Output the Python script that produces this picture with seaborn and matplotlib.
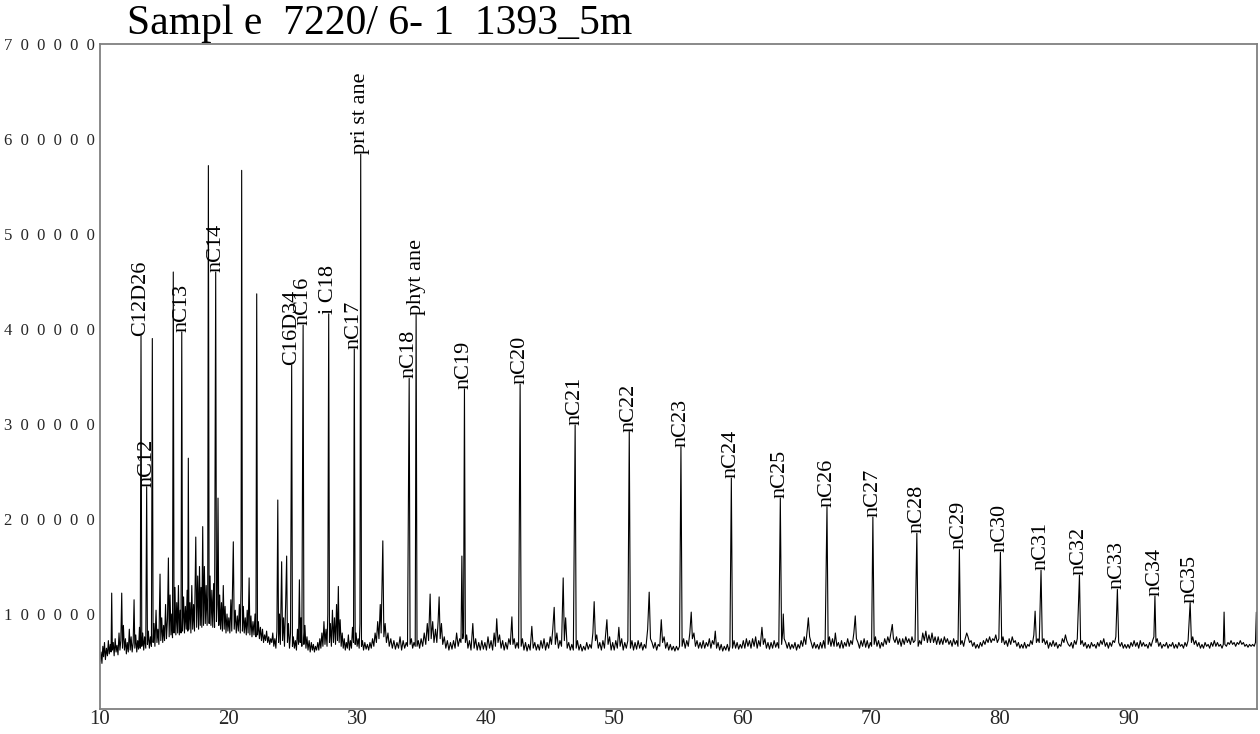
import numpy as np
import pandas as pd
import matplotlib
matplotlib.use("Agg")
import matplotlib.pyplot as plt
import seaborn as sns

# ---------------- data (retention time [min], signal [x1000 counts]) ----------------
seg_10_15 = [
    (10.00, 50), (10.08, 60), (10.15, 48), (10.22, 66), (10.28, 55), (10.35, 70), (10.42, 52), (10.50, 64),
    (10.58, 56), (10.65, 72), (10.72, 58), (10.80, 68), (10.86, 60), (10.91, 122), (10.96, 62), (11.03, 70),
    (11.10, 56), (11.18, 74), (11.25, 60), (11.32, 67), (11.40, 57), (11.48, 80), (11.55, 62), (11.62, 72),
    (11.69, 122), (11.75, 64), (11.82, 88), (11.90, 62), (11.98, 74), (12.05, 58), (12.12, 70), (12.20, 60),
    (12.28, 84), (12.35, 62), (12.42, 76), (12.50, 60), (12.58, 70), (12.65, 115), (12.71, 64), (12.78, 78),
    (12.86, 60), (12.93, 72), (13.00, 63), (13.07, 86), (13.13, 64), (13.19, 393), (13.25, 66), (13.32, 80),
    (13.40, 62), (13.47, 76), (13.56, 64), (13.63, 234), (13.69, 68), (13.76, 82), (13.84, 64), (13.92, 76),
    (14.00, 66), (14.07, 390), (14.13, 70), (14.20, 90), (14.27, 66), (14.36, 104), (14.43, 70), (14.50, 84),
    (14.58, 68), (14.67, 142), (14.73, 72), (14.80, 96), (14.88, 70), (14.95, 88),
]
seg_15_20 = [
    (15.02, 72), (15.10, 110), (15.17, 74), (15.25, 95), (15.32, 159), (15.38, 76), (15.45, 120), (15.52, 78),
    (15.58, 100), (15.64, 75), (15.70, 460), (15.76, 80), (15.83, 128), (15.90, 78), (15.97, 112), (16.04, 80),
    (16.10, 130), (16.17, 78), (16.24, 104), (16.30, 80), (16.36, 397), (16.42, 82), (16.50, 118), (16.57, 80),
    (16.64, 108), (16.71, 84), (16.78, 125), (16.83, 82), (16.87, 264), (16.92, 84), (17.00, 112), (17.07, 80),
    (17.14, 130), (17.21, 84), (17.28, 110), (17.35, 82), (17.45, 181), (17.52, 86), (17.60, 140), (17.67, 84),
    (17.74, 150), (17.80, 88), (17.86, 128), (17.92, 86), (17.99, 192), (18.05, 88), (18.12, 150), (18.19, 90),
    (18.26, 130), (18.33, 88), (18.38, 120), (18.43, 572), (18.49, 90), (18.56, 140), (18.63, 88), (18.70, 125),
    (18.77, 86), (18.84, 132), (18.91, 86), (19.00, 460), (19.06, 92), (19.12, 110), (19.18, 222), (19.24, 88),
    (19.31, 120), (19.38, 84), (19.45, 112), (19.52, 82), (19.59, 130), (19.66, 84), (19.73, 108), (19.80, 80),
    (19.88, 100), (19.95, 82),
]
seg_20_25 = [
    (20.02, 96), (20.10, 80), (20.18, 115), (20.25, 82), (20.37, 176), (20.44, 84), (20.52, 104), (20.60, 80),
    (20.68, 98), (20.76, 82), (20.84, 110), (20.91, 80), (20.97, 130), (21.02, 567), (21.08, 82), (21.15, 108),
    (21.22, 80), (21.30, 96), (21.38, 78), (21.45, 104), (21.52, 80), (21.60, 138), (21.66, 78), (21.74, 98),
    (21.82, 76), (21.90, 92), (21.98, 78), (22.06, 100), (22.13, 76), (22.19, 437), (22.25, 78), (22.32, 92),
    (22.40, 74), (22.48, 86), (22.56, 72), (22.64, 84), (22.72, 70), (22.80, 78), (22.88, 72), (22.96, 82),
    (23.04, 70), (23.12, 76), (23.20, 68), (23.28, 74), (23.36, 70), (23.44, 80), (23.52, 66), (23.60, 74),
    (23.68, 64), (23.76, 82), (23.83, 220), (23.89, 70), (23.96, 100), (24.03, 68), (24.13, 155), (24.20, 72),
    (24.28, 96), (24.35, 66), (24.44, 110), (24.52, 161), (24.58, 70), (24.66, 90), (24.74, 64), (24.82, 80),
    (24.91, 362), (24.97, 66), (25.04, 76),
]
seg_25_30 = [
    (25.12, 64), (25.20, 72), (25.28, 62), (25.36, 84), (25.44, 68), (25.51, 136), (25.57, 70), (25.63, 96),
    (25.70, 66), (25.80, 404), (25.86, 68), (25.94, 88), (26.02, 64), (26.10, 76), (26.18, 62), (26.27, 72),
    (26.35, 60), (26.44, 70), (26.52, 62), (26.60, 68), (26.68, 60), (26.76, 66), (26.85, 62), (26.94, 70),
    (27.02, 62), (27.10, 74), (27.18, 64), (27.26, 80), (27.34, 66), (27.42, 92), (27.50, 68), (27.58, 84),
    (27.66, 66), (27.72, 100), (27.79, 416), (27.85, 70), (27.92, 90), (28.00, 66), (28.08, 104), (28.16, 70),
    (28.24, 96), (28.32, 68), (28.40, 110), (28.47, 72), (28.54, 129), (28.60, 70), (28.68, 94), (28.76, 66),
    (28.84, 80), (28.92, 64), (29.00, 74), (29.08, 62), (29.16, 70), (29.24, 64), (29.32, 78), (29.40, 62),
    (29.48, 72), (29.56, 64), (29.64, 86), (29.72, 70), (29.78, 379), (29.85, 68), (29.92, 80), (30.00, 66),
    (30.08, 74), (30.16, 64), (30.22, 90), (30.28, 584), (30.34, 66), (30.42, 72),
]
seg_30_40 = [
    (30.50, 62), (30.60, 70), (30.70, 63), (30.80, 68), (30.90, 62), (31.00, 70), (31.10, 64), (31.20, 74),
    (31.30, 66), (31.40, 80), (31.50, 70), (31.60, 92), (31.70, 74), (31.80, 110), (31.87, 80), (32.00, 177),
    (32.08, 76), (32.18, 90), (32.28, 70), (32.40, 80), (32.50, 66), (32.62, 74), (32.74, 64), (32.86, 72),
    (32.98, 63), (33.10, 70), (33.22, 64), (33.34, 76), (33.46, 62), (33.58, 72), (33.70, 64), (33.82, 70),
    (33.92, 66), (34.05, 348), (34.12, 68), (34.22, 74), (34.32, 64), (34.42, 70), (34.52, 66), (34.59, 415),
    (34.66, 66), (34.76, 72), (34.86, 64), (34.98, 74), (35.10, 66), (35.22, 80), (35.34, 68), (35.46, 90),
    (35.56, 72), (35.68, 121), (35.76, 74), (35.88, 92), (35.98, 70), (36.10, 84), (36.20, 70), (36.30, 92),
    (36.38, 118), (36.46, 74), (36.56, 90), (36.66, 68), (36.78, 76), (36.90, 64), (37.02, 72), (37.14, 62),
    (37.26, 70), (37.38, 63), (37.50, 72), (37.62, 64), (37.74, 80), (37.86, 66), (37.98, 74), (38.08, 70),
    (38.15, 161), (38.22, 74), (38.28, 80), (38.35, 337), (38.42, 70), (38.52, 78), (38.62, 64), (38.74, 72),
    (38.86, 62), (39.00, 90), (39.10, 64), (39.22, 74), (39.34, 62), (39.46, 70), (39.58, 62), (39.70, 72),
    (39.82, 63),
]
seg_40_50 = [
    (39.94, 70), (40.06, 62), (40.18, 76), (40.30, 64), (40.42, 72), (40.54, 62), (40.66, 80), (40.76, 66),
    (40.86, 95), (40.96, 70), (41.08, 78), (41.20, 64), (41.32, 72), (41.44, 62), (41.56, 70), (41.68, 63),
    (41.80, 74), (41.92, 68), (42.04, 97), (42.12, 68), (42.22, 74), (42.32, 64), (42.44, 70), (42.56, 64),
    (42.68, 342), (42.76, 66), (42.86, 74), (42.98, 62), (43.10, 70), (43.22, 61), (43.34, 68), (43.46, 62),
    (43.59, 87), (43.70, 64), (43.82, 70), (43.94, 62), (44.06, 68), (44.18, 62), (44.30, 72), (44.42, 64),
    (44.54, 74), (44.66, 62), (44.78, 70), (44.90, 64), (45.02, 76), (45.12, 68), (45.22, 84), (45.33, 107),
    (45.42, 68), (45.54, 80), (45.66, 64), (45.78, 72), (45.90, 66), (46.03, 138), (46.12, 72), (46.22, 96),
    (46.34, 64), (46.46, 70), (46.58, 62), (46.70, 68), (46.82, 62), (46.96, 299), (47.04, 64), (47.14, 72),
    (47.26, 62), (47.38, 68), (47.50, 61), (47.62, 66), (47.74, 62), (47.86, 70), (47.98, 63), (48.10, 68),
    (48.22, 64), (48.34, 80), (48.44, 113), (48.54, 72), (48.64, 78), (48.76, 64), (48.88, 70), (49.00, 62),
    (49.12, 72), (49.24, 64), (49.34, 80), (49.43, 94), (49.52, 68), (49.64, 76), (49.76, 62), (49.88, 70),
]
seg_50_60 = [
    (50.00, 62), (50.12, 72), (50.24, 64), (50.36, 86), (50.46, 66), (50.58, 74), (50.70, 62), (50.82, 70),
    (50.94, 64), (51.06, 72), (51.17, 292), (51.26, 64), (51.38, 72), (51.50, 62), (51.62, 70), (51.74, 63),
    (51.86, 72), (51.98, 64), (52.10, 70), (52.22, 62), (52.34, 68), (52.46, 64), (52.60, 84), (52.72, 123),
    (52.82, 74), (52.94, 70), (53.06, 64), (53.18, 70), (53.30, 62), (53.42, 68), (53.54, 66), (53.66, 94),
    (53.76, 70), (53.88, 76), (54.00, 64), (54.12, 70), (54.24, 62), (54.36, 68), (54.48, 62), (54.60, 66),
    (54.72, 61), (54.84, 66), (54.96, 62), (55.08, 66), (55.19, 276), (55.28, 66), (55.40, 74), (55.52, 64),
    (55.64, 72), (55.76, 66), (55.88, 80), (55.99, 102), (56.08, 74), (56.20, 80), (56.32, 66), (56.44, 72),
    (56.56, 64), (56.68, 70), (56.80, 64), (56.92, 72), (57.04, 64), (57.16, 70), (57.28, 66), (57.40, 74),
    (57.52, 64), (57.64, 72), (57.76, 68), (57.86, 82), (57.96, 64), (58.08, 70), (58.20, 62), (58.32, 68),
    (58.44, 61), (58.56, 66), (58.68, 62), (58.80, 68), (58.92, 61), (59.00, 66), (59.11, 243), (59.20, 64),
    (59.32, 72), (59.44, 64), (59.56, 70), (59.68, 63), (59.80, 68), (59.92, 64),
]
seg_60_70 = [
    (60.04, 72), (60.16, 64), (60.28, 74), (60.40, 66), (60.52, 72), (60.64, 64), (60.76, 74), (60.88, 66),
    (61.00, 76), (61.12, 64), (61.24, 72), (61.36, 66), (61.49, 86), (61.60, 68), (61.72, 74), (61.84, 64),
    (61.96, 70), (62.08, 63), (62.20, 70), (62.32, 64), (62.44, 72), (62.56, 65), (62.68, 70), (62.80, 64),
    (62.92, 222), (63.02, 68), (63.10, 80), (63.15, 100), (63.22, 74), (63.34, 70), (63.46, 64), (63.58, 70),
    (63.70, 63), (63.82, 68), (63.94, 64), (64.06, 70), (64.18, 62), (64.30, 68), (64.42, 64), (64.54, 72),
    (64.66, 66), (64.78, 76), (64.90, 68), (65.02, 84), (65.10, 96), (65.20, 76), (65.32, 70), (65.44, 64),
    (65.56, 70), (65.68, 64), (65.80, 68), (65.92, 63), (66.04, 70), (66.16, 64), (66.28, 72), (66.40, 64),
    (66.55, 213), (66.64, 68), (66.74, 76), (66.86, 66), (66.98, 74), (67.10, 66), (67.20, 80), (67.32, 66),
    (67.44, 70), (67.56, 64), (67.68, 72), (67.80, 64), (67.92, 70), (68.04, 66), (68.16, 74), (68.28, 66),
    (68.40, 72), (68.52, 68), (68.64, 80), (68.75, 98), (68.84, 74), (68.96, 70), (69.08, 64), (69.20, 72),
    (69.32, 66), (69.44, 74), (69.56, 65), (69.68, 72), (69.80, 64), (69.92, 70), (70.02, 66),
]
seg_70_80 = [
    (70.12, 202), (70.22, 68), (70.32, 76), (70.44, 66), (70.56, 72), (70.68, 64), (70.80, 70), (70.92, 66),
    (71.04, 74), (71.16, 68), (71.28, 76), (71.40, 70), (71.52, 80), (71.63, 89), (71.72, 74), (71.84, 70),
    (71.96, 76), (72.08, 68), (72.20, 74), (72.32, 66), (72.44, 74), (72.56, 68), (72.68, 76), (72.80, 70),
    (72.92, 74), (73.04, 68), (73.16, 76), (73.28, 70), (73.40, 72), (73.54, 185), (73.64, 66), (73.76, 72),
    (73.88, 68), (74.00, 80), (74.12, 72), (74.24, 82), (74.36, 70), (74.48, 78), (74.60, 70), (74.72, 80),
    (74.84, 70), (74.96, 76), (75.08, 68), (75.20, 76), (75.32, 68), (75.44, 74), (75.56, 68), (75.68, 76),
    (75.80, 70), (75.92, 74), (76.04, 68), (76.16, 72), (76.28, 66), (76.40, 74), (76.52, 68), (76.64, 72),
    (76.74, 66), (76.85, 168), (76.94, 68), (77.06, 72), (77.18, 66), (77.30, 74), (77.42, 80), (77.52, 76),
    (77.64, 70), (77.76, 72), (77.88, 66), (78.00, 70), (78.12, 64), (78.24, 68), (78.36, 64), (78.48, 70),
    (78.60, 66), (78.72, 72), (78.84, 68), (78.96, 74), (79.08, 70), (79.20, 76), (79.32, 70), (79.44, 74),
    (79.56, 72), (79.68, 78), (79.80, 70), (79.92, 74),
]
seg_80_90 = [
    (80.04, 165), (80.14, 70), (80.24, 76), (80.36, 68), (80.48, 72), (80.60, 66), (80.72, 74), (80.84, 68),
    (80.96, 76), (81.08, 70), (81.20, 72), (81.32, 66), (81.44, 70), (81.56, 64), (81.68, 68), (81.80, 64),
    (81.92, 70), (82.04, 64), (82.16, 68), (82.28, 66), (82.40, 72), (82.52, 68), (82.64, 78), (82.74, 103),
    (82.84, 70), (82.96, 74), (83.06, 70), (83.20, 146), (83.30, 70), (83.42, 74), (83.54, 68), (83.66, 72),
    (83.78, 64), (83.90, 70), (84.02, 66), (84.14, 72), (84.26, 66), (84.38, 70), (84.50, 64), (84.62, 68),
    (84.74, 66), (84.86, 74), (84.98, 70), (85.10, 78), (85.20, 72), (85.32, 68), (85.44, 66), (85.56, 70),
    (85.68, 64), (85.80, 72), (85.92, 68), (86.02, 74), (86.19, 141), (86.28, 68), (86.40, 72), (86.52, 66),
    (86.64, 70), (86.76, 64), (86.88, 68), (87.00, 64), (87.12, 70), (87.24, 66), (87.36, 68), (87.48, 64),
    (87.60, 70), (87.72, 66), (87.84, 72), (87.96, 68), (88.08, 74), (88.20, 66), (88.32, 70), (88.44, 64),
    (88.56, 70), (88.68, 66), (88.80, 72), (88.92, 70), (89.02, 76), (89.14, 126), (89.24, 70), (89.36, 66),
    (89.48, 70), (89.60, 64), (89.72, 68), (89.84, 64), (89.96, 68),
]
seg_90_100 = [
    (90.08, 64), (90.20, 70), (90.32, 66), (90.44, 72), (90.56, 66), (90.68, 70), (90.80, 64), (90.92, 72),
    (91.04, 66), (91.16, 70), (91.28, 66), (91.40, 68), (91.52, 64), (91.64, 70), (91.76, 66), (91.88, 72),
    (91.98, 76), (92.06, 119), (92.14, 70), (92.24, 74), (92.36, 66), (92.48, 70), (92.60, 64), (92.72, 68),
    (92.84, 66), (92.96, 70), (93.08, 64), (93.20, 68), (93.32, 66), (93.44, 70), (93.56, 64), (93.68, 68),
    (93.80, 64), (93.92, 70), (94.04, 66), (94.16, 68), (94.28, 64), (94.40, 70), (94.52, 66), (94.64, 72),
    (94.80, 112), (94.90, 70), (95.00, 76), (95.12, 68), (95.24, 72), (95.36, 66), (95.48, 70), (95.60, 64),
    (95.72, 68), (95.84, 64), (95.96, 70), (96.08, 66), (96.20, 68), (96.32, 64), (96.44, 70), (96.56, 66),
    (96.68, 72), (96.80, 66), (96.92, 70), (97.04, 66), (97.16, 68), (97.28, 64), (97.38, 68), (97.44, 102),
    (97.50, 68), (97.62, 66), (97.74, 70), (97.86, 68), (97.98, 72), (98.10, 68), (98.22, 70), (98.34, 66),
    (98.46, 70), (98.58, 68), (98.70, 72), (98.82, 68), (98.94, 70), (99.06, 66), (99.18, 68), (99.30, 65),
    (99.42, 68), (99.54, 66), (99.66, 68), (99.78, 66), (99.88, 70), (99.95, 102), (100.0, 70),
]

# peak labels: retention time, apex (x1000 counts), name
label_rt = [13.19, 13.63, 16.36, 19.00, 24.91, 25.80, 27.79, 29.78, 30.28, 34.05, 34.59,
            38.35, 42.68, 46.96, 51.17, 55.19, 59.11, 62.92, 66.55, 70.12, 73.54, 76.85,
            80.04, 83.20, 86.19, 89.14, 92.06, 94.80]
label_k = [393, 234, 397, 460, 362, 404, 416, 379, 584, 348, 415,
           337, 342, 299, 292, 276, 243, 222, 213, 202, 185, 168,
           165, 146, 141, 126, 119, 112]
label_text = ["C12D26", "nC12", "nC13", "nC14", "C16D34", "nC16", "i C18", "nC17", "pri st ane",
              "nC18", "phyt ane", "nC19", "nC20", "nC21", "nC22", "nC23", "nC24", "nC25", "nC26",
              "nC27", "nC28", "nC29", "nC30", "nC31", "nC32", "nC33", "nC34", "nC35"]

x_ticks = [10, 20, 30, 40, 50, 60, 70, 80, 90]
y_ticks = [100000, 200000, 300000, 400000, 500000, 600000, 700000]
title_text = "Sampl e  7220/ 6- 1  1393_5m"

# ---------------- build frame ----------------
segments = [seg_10_15, seg_15_20, seg_20_25, seg_25_30, seg_30_40, seg_40_50,
            seg_50_60, seg_60_70, seg_70_80, seg_80_90, seg_90_100]
pts = [p for seg in segments for p in seg]
df = pd.DataFrame(pts, columns=["rt", "kcounts"])
df["signal"] = df["kcounts"] * 1000

# ---------------- plot ----------------
sns.set_style("white")
plt.rcParams["font.family"] = ["Liberation Serif", "DejaVu Serif"]

fig = plt.figure(figsize=(12.6, 7.34), dpi=100)
ax = fig.add_axes([100 / 1260, 1 - 709 / 734, 1157 / 1260, (709 - 44) / 734])

sns.lineplot(data=df, x="rt", y="signal", ax=ax, color="black", linewidth=0.8,
             estimator=None, sort=False)

for rt, k, txt in zip(label_rt, label_k, label_text):
    ax.text(rt, k * 1000, txt, rotation=90, ha="center", va="bottom",
            fontsize=16, color="black")

ax.set_xlim(10, 100)
ax.set_ylim(0, 700000)
ax.set_xlabel("")
ax.set_ylabel("")

ax.set_xticks(x_ticks)
ax.set_xticklabels([str(t) for t in x_ticks], fontsize=15)
ax.set_yticks(y_ticks)
ax.set_yticklabels(["  ".join(str(t)) for t in y_ticks], fontsize=12)
plt.setp(ax.get_yticklabels(), va="center_baseline")

ax.tick_params(axis="x", direction="in", length=4, width=1, color="#888888", pad=1)
ax.tick_params(axis="y", direction="out", length=3, width=1.5, color="#444444", pad=1)

for side in ["left", "right", "top", "bottom"]:
    ax.spines[side].set_visible(True)
    ax.spines[side].set_color("#808080")
    ax.spines[side].set_linewidth(1.3)

fig.text(127 / 1260, 1 - 34 / 734, title_text, fontsize=30, ha="left", va="baseline",
         color="black")

fig.savefig("out.png", dpi=100, facecolor="white")
